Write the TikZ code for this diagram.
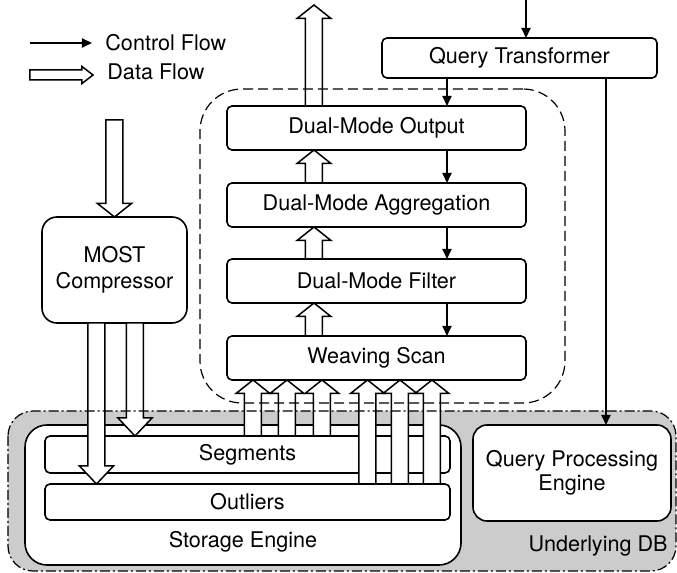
\documentclass[tikz,border=0pt]{standalone}
\usepackage{fontspec}
\setmainfont{TeX Gyre Heros}
\usepackage{tikz}
\usetikzlibrary{arrows.meta, positioning, calc}
\definecolor{dbgray}{RGB}{204, 204, 204}
\newcommand{\dfshaft}{4.25pt}
\newcommand{\dfwing}{8.5pt}
\newcommand{\dfhead}{6.75pt}
% hollow block arrow, tip at the second point
\newcommand{\dataflow}[2]{%
  \draw[dataflow] let \p1=#1, \p2=#2, \n1={atan2(\y2-\y1,\x2-\x1)} in
    ($(\p1)+(\n1+90:\dfshaft)$) -- ($(\p2)+(\n1+180:\dfhead)+(\n1+90:\dfshaft)$)
    -- ($(\p2)+(\n1+180:\dfhead)+(\n1+90:\dfwing)$) -- (\p2)
    -- ($(\p2)+(\n1+180:\dfhead)+(\n1-90:\dfwing)$)
    -- ($(\p2)+(\n1+180:\dfhead)+(\n1-90:\dfshaft)$)
    -- ($(\p1)+(\n1-90:\dfshaft)$) -- cycle;}
\tikzset{
  box/.style={draw, line width=0.8pt, fill=white, rounded corners=2.5pt, minimum width=149.5pt, minimum height=22pt, inner sep=0pt, outer sep=0pt},
  bigbox/.style={draw, line width=0.8pt, fill=white, rounded corners=7.5pt, inner sep=0pt, outer sep=0pt, align=center},
  ctrl/.style={line width=0.9pt, -{Triangle[length=5pt, width=4.5pt]}},
  dataflow/.style={draw=black, fill=white, line width=0.75pt, line join=miter},
  modebox/.style={draw, dash pattern=on 5pt off 2.5pt, line width=0.6pt, rounded corners=21pt, minimum width=182.5pt, minimum height=157pt, inner sep=0pt, outer sep=0pt},
  dbline/.style={dash pattern=on 5pt off 1.5pt on 1pt off 1.5pt, line width=0.6pt, rounded corners=12.5pt}
}
\begin{document}
\begin{tikzpicture}[x=0.5pt, y=-0.5pt, font=\fontsize{10.8}{12}\selectfont]
    \useasboundingbox (0,0) rectangle (677,573);

    % Underlying DB
    \node[fill=dbgray, minimum width=334pt, minimum height=80pt, rounded corners=12.5pt, inner sep=0pt, outer sep=0pt] (db) at (342,491) {};
    \node[bigbox, rounded corners=11pt, minimum width=218pt, minimum height=70pt] (storage) at (243,495) {};
    \node (storagetxt) at (243,542) {Storage Engine};
    \node[box, minimum width=202.5pt, minimum height=18.5pt] (seg) at (247.5,454.5) {Segments};
    \node[box, minimum width=202.5pt, minimum height=18pt] (outl) at (247.5,502) {Outliers};
    \node[bigbox, rounded corners=7pt, minimum width=99pt, minimum height=48pt] (qpe) at (572,473) {Query Processing\\Engine};
    \node[anchor=east, inner sep=0pt] (dbtxt) at (668,546) {Underlying DB};

    % Dual-mode operators
    \node[box] (out) at (376.5,128) {Dual-Mode Output};
    \node[box, below=16.5pt of out] (agg) {Dual-Mode Aggregation};
    \node[box, below=16pt of agg] (filt) {Dual-Mode Filter};
    \node[box, below=16.5pt of filt] (scan) {Weaving Scan};
    \node[box, minimum width=137.5pt, minimum height=20pt] (qt) at (519.5,58) {Query Transformer};
    \node[bigbox, minimum width=72.5pt, minimum height=53pt] (most) at (114.5,270) {MOST\\[1pt]Compressor};

    % Legend
    \coordinate (lc1) at (30,43);
    \coordinate (lc2) at (92,43);
    \draw[ctrl] (lc1) -- (lc2);
    \node[anchor=west, inner sep=0pt] (lctxt) at (105,43) {Control Flow};
    \coordinate (ld1) at (30,75);
    \coordinate (ld2) at (93,75);
    \begin{scope}
        \renewcommand{\dfshaft}{2.5pt}
        \renewcommand{\dfwing}{4.25pt}
        \renewcommand{\dfhead}{5.5pt}
        \dataflow{(ld1)}{(ld2)}
    \end{scope}
    \node[anchor=west, inner sep=0pt] (ldtxt) at (107,72) {Data Flow};

    % Data flow
    \coordinate (raw) at (114.5,120);
    \dataflow{(raw)}{(most.north)}
    \begin{scope}
        \renewcommand{\dfhead}{9pt}
        \coordinate (m1) at ($(most.south)+(-18,0)$);
        \coordinate (m2) at ($(most.south)+(20.5,0)$);
        \dataflow{(m1)}{(m1 |- outl.north)}
        \dataflow{(m2)}{(m2 |- seg.north)}
    \end{scope}
    \foreach \dx in {5.5,39.5,74.5} {
        \coordinate (u) at ($(seg.north)+(\dx,0)$);
        \dataflow{(u)}{(u |- scan.south)}
    }
    \foreach \dx in {120,152.5,184.5} {
        \coordinate (v) at ($(outl.north)+(\dx,0)$);
        \dataflow{(v)}{(v |- scan.south)}
    }
    \foreach \a/\b in {scan/filt, filt/agg, agg/out} {
        \coordinate (w) at ($(\a.north)+(-62.5,0)$);
        \dataflow{(w)}{(w |- \b.south)}
    }
    \coordinate (result) at (314,5);
    \dataflow{(result |- out.north)}{(result)}

    % Control flow
    \coordinate (query) at (526,0);
    \draw[ctrl] (query) -- (query |- qt.north);
    \draw[ctrl] ($(qt.south)+(-72.5,0)$) -- ($(out.north)+(70.5,0)$);
    \foreach \a/\b in {out/agg, agg/filt, filt/scan}
        \draw[ctrl] ($(\a.south)+(70.5,0)$) -- ($(\b.north)+(70.5,0)$);
    \draw[ctrl] ($(qt.south)+(86.5,0)$) -- ($(qpe.north)+(34,0)$);

    % Borders on top
    \node[modebox] (mode) at (382.5,246) {};
    \draw[dbline] (db.north west) rectangle (db.south east);
\end{tikzpicture}
\end{document}
